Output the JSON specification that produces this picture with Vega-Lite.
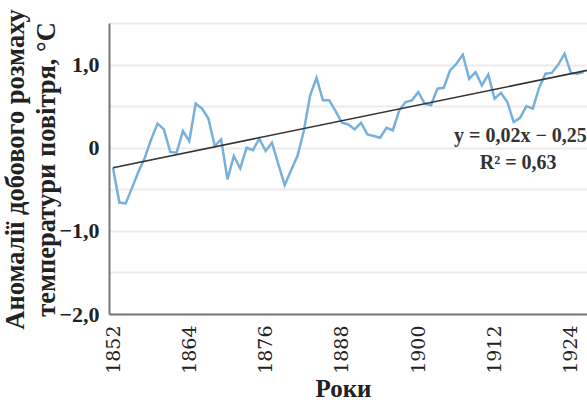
{
  "$schema": "https://vega.github.io/schema/vega-lite/v6.json",
  "width": 478,
  "height": 291,
  "autosize": "none",
  "padding": {"left": 109, "top": 23, "right": 0, "bottom": 90},
  "background": "white",
  "config": {
    "view": {"stroke": null},
    "font": "Liberation Serif",
    "axis": {"labelFont": "Liberation Serif", "titleFont": "Liberation Serif", "labelColor": "#222", "titleColor": "#222"}
  },
  "datasets": {
    "anom": [
      {"year": 1852, "value": -0.24}, {"year": 1853, "value": -0.66}, {"year": 1854, "value": -0.67},
      {"year": 1855, "value": -0.48}, {"year": 1856, "value": -0.29}, {"year": 1857, "value": -0.12},
      {"year": 1858, "value": 0.1}, {"year": 1859, "value": 0.29}, {"year": 1860, "value": 0.22},
      {"year": 1861, "value": -0.05}, {"year": 1862, "value": -0.06}, {"year": 1863, "value": 0.2},
      {"year": 1864, "value": 0.08}, {"year": 1865, "value": 0.53}, {"year": 1866, "value": 0.47},
      {"year": 1867, "value": 0.35}, {"year": 1868, "value": 0.02}, {"year": 1869, "value": 0.1},
      {"year": 1870, "value": -0.38}, {"year": 1871, "value": -0.1}, {"year": 1872, "value": -0.25},
      {"year": 1873, "value": 0.0}, {"year": 1874, "value": -0.03}, {"year": 1875, "value": 0.11},
      {"year": 1876, "value": -0.04}, {"year": 1877, "value": 0.06}, {"year": 1878, "value": -0.2},
      {"year": 1879, "value": -0.45}, {"year": 1880, "value": -0.27}, {"year": 1881, "value": -0.1},
      {"year": 1882, "value": 0.2}, {"year": 1883, "value": 0.63}, {"year": 1884, "value": 0.84},
      {"year": 1885, "value": 0.57}, {"year": 1886, "value": 0.57}, {"year": 1887, "value": 0.44},
      {"year": 1888, "value": 0.3}, {"year": 1889, "value": 0.28}, {"year": 1890, "value": 0.22},
      {"year": 1891, "value": 0.3}, {"year": 1892, "value": 0.16}, {"year": 1893, "value": 0.14},
      {"year": 1894, "value": 0.12}, {"year": 1895, "value": 0.24}, {"year": 1896, "value": 0.21},
      {"year": 1897, "value": 0.45}, {"year": 1898, "value": 0.55}, {"year": 1899, "value": 0.57},
      {"year": 1900, "value": 0.67}, {"year": 1901, "value": 0.53}, {"year": 1902, "value": 0.51},
      {"year": 1903, "value": 0.71}, {"year": 1904, "value": 0.72}, {"year": 1905, "value": 0.93},
      {"year": 1906, "value": 1.01}, {"year": 1907, "value": 1.12}, {"year": 1908, "value": 0.83},
      {"year": 1909, "value": 0.91}, {"year": 1910, "value": 0.75}, {"year": 1911, "value": 0.88},
      {"year": 1912, "value": 0.59}, {"year": 1913, "value": 0.66}, {"year": 1914, "value": 0.55},
      {"year": 1915, "value": 0.31}, {"year": 1916, "value": 0.36}, {"year": 1917, "value": 0.5},
      {"year": 1918, "value": 0.47}, {"year": 1919, "value": 0.72}, {"year": 1920, "value": 0.89},
      {"year": 1921, "value": 0.9}, {"year": 1922, "value": 1.0}, {"year": 1923, "value": 1.13},
      {"year": 1924, "value": 0.9}, {"year": 1925, "value": 0.89}, {"year": 1926, "value": 0.91}
    ],
    "trend": [
      {"year": 1852, "value": -0.24},
      {"year": 1926.53, "value": 0.93}
    ],
    "eq": [
      {"year": 1926.5, "value": 0.145, "label": "y = 0,02x − 0,25"}
    ],
    "r2": [
      {"year": 1915.7, "value": -0.18, "label": "R² = 0,63"}
    ]
  },
  "layer": [
    {
      "data": {"name": "anom"},
      "mark": {"type": "line", "color": "#76b0dc", "strokeWidth": 2.5, "clip": true},
      "encoding": {
        "x": {
          "field": "year", "type": "quantitative",
          "scale": {"domain": [1851.37, 1926.53], "nice": false, "zero": false},
          "axis": {
            "values": [1852, 1864, 1876, 1888, 1900, 1912, 1924],
            "format": "d",
            "grid": false,
            "ticks": false,
            "domainColor": "#777",
            "domainWidth": 2,
            "labelAngle": 270,
            "labelAlign": "right",
            "labelBaseline": "middle",
            "labelPadding": 11,
            "labelFont": "DejaVu Serif",
            "labelFontSize": 19,
            "labelFontWeight": "normal",
            "labelFlush": false,
            "labelOverlap": false,
            "title": "Роки",
            "titleFontSize": 25,
            "titleFontWeight": "bold",
            "titleX": 234,
            "titleY": 74,
            "titleBaseline": "middle"
          }
        },
        "y": {
          "field": "value", "type": "quantitative",
          "scale": {"domain": [-2, 1.5], "nice": false, "zero": false},
          "axis": {
            "values": [-2, -1.5, -1, -0.5, 0, 0.5, 1, 1.5],
            "labelExpr": "datum.value == 0 ? '0' : (datum.value % 1 == 0 ? replace(format(datum.value, '.1f'), '.', ',') : '')",
            "grid": true,
            "gridColor": "#ebebeb",
            "gridWidth": 2,
            "ticks": false,
            "domainColor": "#777",
            "domainWidth": 2,
            "labelPadding": 10,
            "labelFontSize": 22,
            "labelFontWeight": "bold",
            "title": ["Аномалії добового розмаху", "температури повітря, °C"],
            "titleFontSize": 26.5,
            "titleFontWeight": "bold",
            "titleLineHeight": 31,
            "titleAngle": -90,
            "titleX": -107,
            "titleY": 146,
            "titleAlign": "center",
            "titleBaseline": "top"
          }
        }
      }
    },
    {
      "data": {"name": "trend"},
      "mark": {"type": "line", "color": "#333333", "strokeWidth": 1.6, "clip": true},
      "encoding": {
        "x": {"field": "year", "type": "quantitative"},
        "y": {"field": "value", "type": "quantitative"}
      }
    },
    {
      "data": {"name": "eq"},
      "mark": {"type": "text", "align": "right", "baseline": "middle", "font": "Liberation Serif", "fontSize": 20, "fontWeight": "bold", "color": "#333"},
      "encoding": {
        "x": {"field": "year", "type": "quantitative"},
        "y": {"field": "value", "type": "quantitative"},
        "text": {"field": "label"}
      }
    },
    {
      "data": {"name": "r2"},
      "mark": {"type": "text", "align": "center", "baseline": "middle", "font": "Liberation Serif", "fontSize": 20, "fontWeight": "bold", "color": "#333"},
      "encoding": {
        "x": {"field": "year", "type": "quantitative"},
        "y": {"field": "value", "type": "quantitative"},
        "text": {"field": "label"}
      }
    }
  ]
}
